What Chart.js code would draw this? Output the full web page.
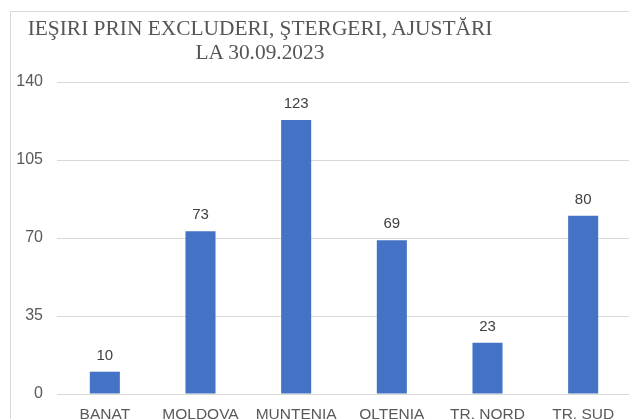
<!DOCTYPE html>
<html>
<head>
<meta charset="utf-8">
<script src="https://cdn.jsdelivr.net/npm/chart.js@4"></script>
<style>
  html, body { margin: 0; padding: 0; background: #fff; }
  #wrap { position: relative; width: 629px; height: 419px; overflow: hidden; background: #fff; }
  #frame { position: absolute; left: 10px; top: 11px; width: 700px; height: 500px;
           border-left: 1px solid #d9d9d9; border-top: 1px solid #d9d9d9; }
  canvas { position: absolute; left: 0; top: 0; }
  .title { position: absolute; left: 0; width: 520px; text-align: center;
           font-family: "Liberation Serif", "Times New Roman", serif; font-size: 21.4px;
           color: #555; white-space: nowrap; line-height: 24px; }
</style>
</head>
<body>
<div id="wrap">
  <div id="frame"></div>
  <canvas id="chart" width="640" height="419"></canvas>
  <div class="title" style="top:16px">IEŞIRI PRIN EXCLUDERI, ŞTERGERI, AJUSTĂRI</div>
  <div class="title" style="top:40px">LA 30.09.2023</div>
</div>
<script>
const regions = ['BANAT', 'MOLDOVA', 'MUNTENIA', 'OLTENIA', 'TR. NORD', 'TR. SUD'];
const exits = [10, 73, 123, 69, 23, 80];
const yTicks = [0, 35, 70, 105, 140];

const valueLabels = {
  id: 'valueLabels',
  afterDatasetsDraw(chart) {
    const ctx = chart.ctx;
    ctx.save();
    ctx.font = '15px "Liberation Sans", Arial, sans-serif';
    ctx.fillStyle = '#404040';
    ctx.textAlign = 'center';
    ctx.textBaseline = 'alphabetic';
    chart.getDatasetMeta(0).data.forEach((bar, i) => {
      ctx.fillText(String(exits[i]), bar.x, bar.y - 12);
    });
    ctx.restore();
  }
};

new Chart(document.getElementById('chart'), {
  type: 'bar',
  data: {
    labels: regions,
    datasets: [{
      data: exits,
      backgroundColor: '#4472C4',
      barPercentage: 0.314,
      categoryPercentage: 1
    }]
  },
  options: {
    responsive: false,
    animation: false,
    layout: { padding: { top: 82, right: 9, bottom: 0, left: 0 } },
    plugins: { legend: { display: false }, tooltip: { enabled: false } },
    scales: {
      x: {
        grid: { display: false },
        border: { display: false },
        ticks: { color: '#595959', font: { family: '"Liberation Sans", Arial, sans-serif', size: 15.5 }, padding: 3, maxRotation: 0, autoSkip: false },
        afterFit(s) { s.height = 25; }
      },
      y: {
        min: 0, max: 140,
        afterBuildTicks(s) { s.ticks = yTicks.map(v => ({ value: v })); },
        grid: { color: '#d9d9d9', drawTicks: false, lineWidth: 1 },
        border: { display: false },
        ticks: { color: '#595959', font: { family: '"Liberation Sans", Arial, sans-serif', size: 16 }, padding: 14 },
        afterFit(s) { s.width = 57; }
      }
    }
  },
  plugins: [valueLabels]
});
</script>
</body>
</html>
